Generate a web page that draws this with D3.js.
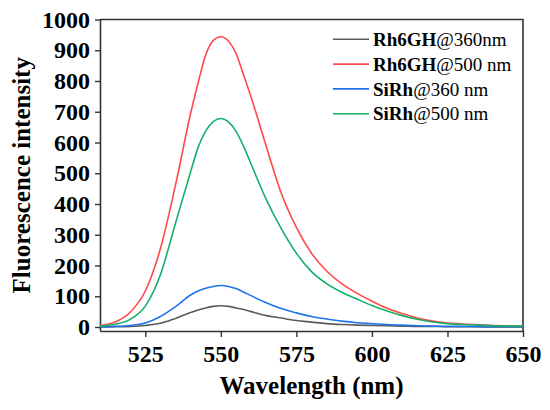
<!DOCTYPE html>
<html>
<head>
<meta charset="utf-8">
<script src="https://cdn.jsdelivr.net/npm/d3@7"></script>
<style>
  body { margin: 0; background: #fff; }
</style>
</head>
<body>
<svg id="chart" width="550" height="410" font-family="Liberation Serif"></svg>
<script>
// wavelength grid (nm), denser round the peak
var wavelengths = [510, 515, 520, 525, 530, 535, 540, 542.5, 545, 547.5, 550, 552.5, 555, 557.5, 560,
  565, 570, 575, 580, 585, 590, 595, 600, 605, 610, 615, 620, 625, 630, 635, 640, 645, 650]

var rh6gh360 = [0, 1, 2, 5, 12, 28, 47, 55, 62, 67, 69, 67, 62, 57, 50,
  37, 29, 21, 16, 11, 8, 6, 5, 4, 3, 2, 2, 1, 1, 1, 0, 0, 0]
var rh6gh500 = [5, 16, 48, 117, 255, 462, 695, 795, 885, 932, 944, 930, 890, 820, 748,
  588, 435, 324, 240, 182, 141, 110, 84, 61, 44, 29, 19, 13, 10, 7, 5, 4, 3]
var sirh360 = [1, 2, 5, 13, 34, 66, 104, 117, 126, 132, 135, 132, 125, 114, 102,
  79, 60, 46, 34, 26, 19, 14, 11, 8, 6, 4, 3, 2, 2, 1, 1, 1, 1]
var sirh500 = [3, 9, 25, 68, 170, 338, 505, 585, 638, 668, 678, 667, 637, 588, 530,
  415, 320, 240, 180, 141, 113, 91, 70, 52, 37, 25, 16, 11, 8, 6, 4, 3, 3]

var seriesNames = [['Rh6GH', '@360nm'], ['Rh6GH', '@500 nm'], ['SiRh', '@360 nm'], ['SiRh', '@500 nm']]
var seriesValues = [rh6gh360, rh6gh500, sirh360, sirh500]
var seriesColors = ['#5a5a5a', '#ff4a4a', '#1f74ec', '#12b06a']

var xTicks = [525, 550, 575, 600, 625, 650]
var yTicks = [0, 100, 200, 300, 400, 500, 600, 700, 800, 900, 1000]

var FONT = 'Liberation Serif'

var W = 550
var H = 410
var margin = {top: 19.5, right: 27, bottom: 79, left: 100}
var innerw = W - margin.left - margin.right
var innerh = H - margin.top - margin.bottom

var svg = d3.select('#chart')
var g = svg.append('g').attr('transform', `translate(${margin.left},${margin.top})`)

var x = d3.scaleLinear().domain([510, 650]).range([0, innerw])
var y = d3.scaleLinear().domain([-13, 1000]).range([innerh, 0])

/*
    axes
*/
var xAxis = g.append('g')
    .attr('transform', `translate(0,${innerh})`)
    .call(d3.axisBottom(x).tickValues(xTicks).tickFormat(d3.format('d'))
      .tickSize(6).tickPadding(8).tickSizeOuter(0))

var yAxis = g.append('g')
    .call(d3.axisLeft(y).tickValues(yTicks).tickFormat(d3.format('d'))
      .tickSize(5).tickPadding(5).tickSizeOuter(0))

g.selectAll('.tick').select(function () { return this.parentNode })
    .attr('font-family', FONT)
    .attr('font-size', 24)
    .attr('font-weight', 'bold')
g.selectAll('.tick text').attr('fill', '#000')
g.selectAll('.domain').attr('stroke', '#333').attr('stroke-width', 1.6)
g.selectAll('.tick line').attr('stroke', '#333').attr('stroke-width', 1.4)

// top and right frame
g.append('path')
    .attr('d', `M0,0H${innerw}V${innerh}`)
    .attr('fill', 'none')
    .attr('stroke', '#333')
    .attr('stroke-width', 1.6)

/*
    curves
*/
var line = d3.line()
    .x((d, i) => x(wavelengths[i]))
    .y(d => y(d))
    .curve(d3.curveMonotoneX)

g.selectAll('.series')
    .data(seriesValues)
    .enter()
    .append('path')
    .attr('class', 'series')
    .attr('d', d => line(d))
    .attr('fill', 'none')
    .attr('stroke', (d, i) => seriesColors[i])
    .attr('stroke-width', 1.6)

/*
    legend
*/
var legend = svg.append('g').attr('transform', 'translate(333,39.3)')
var rows = legend.selectAll('.row')
    .data(seriesNames)
    .enter()
    .append('g')
    .attr('transform', (d, i) => `translate(0,${i * 24.8})`)

rows.append('line')
    .attr('x1', 0).attr('x2', 36)
    .attr('stroke', (d, i) => seriesColors[i])
    .attr('stroke-width', 1.6)

var labels = rows.append('text')
    .attr('x', 40)
    .attr('dy', '0.35em')
    .attr('font-family', FONT)
    .attr('font-size', 19)
labels.append('tspan').attr('font-weight', 'bold').text(d => d[0])
labels.append('tspan').text(d => d[1])

/*
    axis titles
*/
svg.append('text')
    .attr('transform', `translate(${margin.left + innerw / 2},394)`)
    .attr('text-anchor', 'middle')
    .attr('font-family', FONT)
    .attr('font-size', 25)
    .attr('font-weight', 'bold')
    .text('Wavelength (nm)')

svg.append('text')
    .attr('transform', `translate(30,${margin.top + innerh / 2}) rotate(-90)`)
    .attr('text-anchor', 'middle')
    .attr('font-family', FONT)
    .attr('font-size', 25)
    .attr('font-weight', 'bold')
    .text('Fluorescence intensity')
</script>
</body>
</html>
